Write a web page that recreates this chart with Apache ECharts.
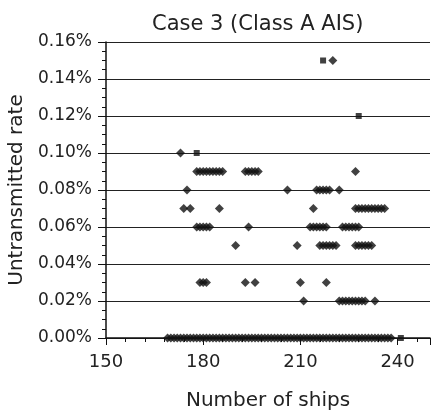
<!DOCTYPE html>
<html>
<head>
<meta charset="utf-8">
<script src="https://cdn.jsdelivr.net/npm/echarts@6/dist/echarts.min.js"></script>
<style>
  html, body { margin: 0; padding: 0; background: #fff; }
  #chart { width: 432px; height: 410px; }
</style>
</head>
<body>
<div id="chart"></div>
<script>
// rate levels (%) and the ship counts seen at each level
const rateLevels = [0.15, 0.10, 0.09, 0.08, 0.07, 0.06, 0.05, 0.03, 0.02, 0.00];
const shipsAtRate = [
  [220],
  [173],
  [178, 179, 180, 181, 182, 183, 184, 185, 186, 193, 194, 195, 196, 197, 227],
  [175, 206, 215, 216, 217, 218, 219, 222],
  [174, 176, 185, 214, 227, 228, 229, 230, 231, 232, 233, 234, 235, 236],
  [178, 179, 180, 181, 182, 194, 213, 214, 215, 216, 217, 218, 223, 224, 225, 226, 227, 228],
  [190, 209, 216, 217, 218, 219, 220, 221, 227, 228, 229, 230, 231, 232],
  [179, 180, 181, 193, 196, 210, 218],
  [211, 222, 223, 224, 225, 226, 227, 228, 229, 230, 233],
  [169, 170, 171, 172, 173, 174, 175, 176, 177, 178, 179, 180, 181, 182, 183, 184, 185,
   186, 187, 188, 189, 190, 191, 192, 193, 194, 195, 196, 197, 198, 199, 200, 201, 202,
   203, 204, 205, 206, 207, 208, 209, 210, 211, 212, 213, 214, 215, 216, 217, 218, 219,
   220, 221, 222, 223, 224, 225, 226, 227, 228, 229, 230, 231, 232, 233, 234, 235, 236,
   237, 238]
];
// points drawn as squares
const squareShips = [217, 228, 178, 241];
const squareRates = [0.15, 0.12, 0.10, 0.00];

const xTicks = { min: 150, max: 250, interval: 30 };
const yTicks = { min: 0, max: 0.16, interval: 0.02 };

const diamondData = [];
rateLevels.forEach((r, i) => {
  shipsAtRate[i].forEach(s => diamondData.push([s, r]));
});
const squareData = squareShips.map((s, i) => [s, squareRates[i]]);

const font = 'DejaVu Sans';
const chart = echarts.init(document.getElementById('chart'));
chart.setOption({
  backgroundColor: '#fff',
  animation: false,
  title: {
    text: 'Case 3 (Class A AIS)',
    left: 147,
    top: 9,
    textStyle: { fontFamily: font, fontSize: 21, fontWeight: 'normal', color: '#222' }
  },
  grid: { left: 106, right: 2, top: 42, bottom: 72, outerBoundsMode: 'none' },
  xAxis: {
    type: 'value',
    min: xTicks.min,
    max: xTicks.max,
    interval: xTicks.interval,
    name: 'Number of ships',
    nameLocation: 'middle',
    nameGap: 53,
    nameTextStyle: { fontFamily: font, fontSize: 20, color: '#222' },
    axisLine: { show: true, lineStyle: { color: '#111', width: 1.5 } },
    axisTick: { show: true, length: 7, lineStyle: { color: '#111' } },
    minorTick: { show: true, splitNumber: 5, length: 4, lineStyle: { color: '#111' } },
    axisLabel: {
      showMaxLabel: false,
      margin: 15,
      fontFamily: font, fontSize: 18, color: '#222'
    },
    splitLine: { show: false }
  },
  yAxis: {
    type: 'value',
    min: yTicks.min,
    max: yTicks.max,
    interval: yTicks.interval,
    name: 'Untransmitted rate',
    nameLocation: 'middle',
    nameGap: 76,
    nameTextStyle: { fontFamily: font, fontSize: 20, color: '#222' },
    axisLine: { show: true, lineStyle: { color: '#111', width: 1.5 } },
    axisTick: { show: true, length: 8, lineStyle: { color: '#111' } },
    minorTick: { show: true, splitNumber: 4, length: 4, lineStyle: { color: '#111' } },
    axisLabel: {
      margin: 14,
      fontFamily: font, fontSize: 17, color: '#222',
      formatter: v => v.toFixed(2) + '%'
    },
    splitLine: { show: true, lineStyle: { color: '#222', width: 1 } }
  },
  series: [
    {
      type: 'scatter',
      symbol: 'diamond',
      symbolSize: 9,
      itemStyle: { color: '#111' },
      data: diamondData
    },
    {
      type: 'scatter',
      symbol: 'rect',
      symbolSize: 6,
      itemStyle: { color: '#111' },
      data: squareData
    }
  ]
});
</script>
</body>
</html>
